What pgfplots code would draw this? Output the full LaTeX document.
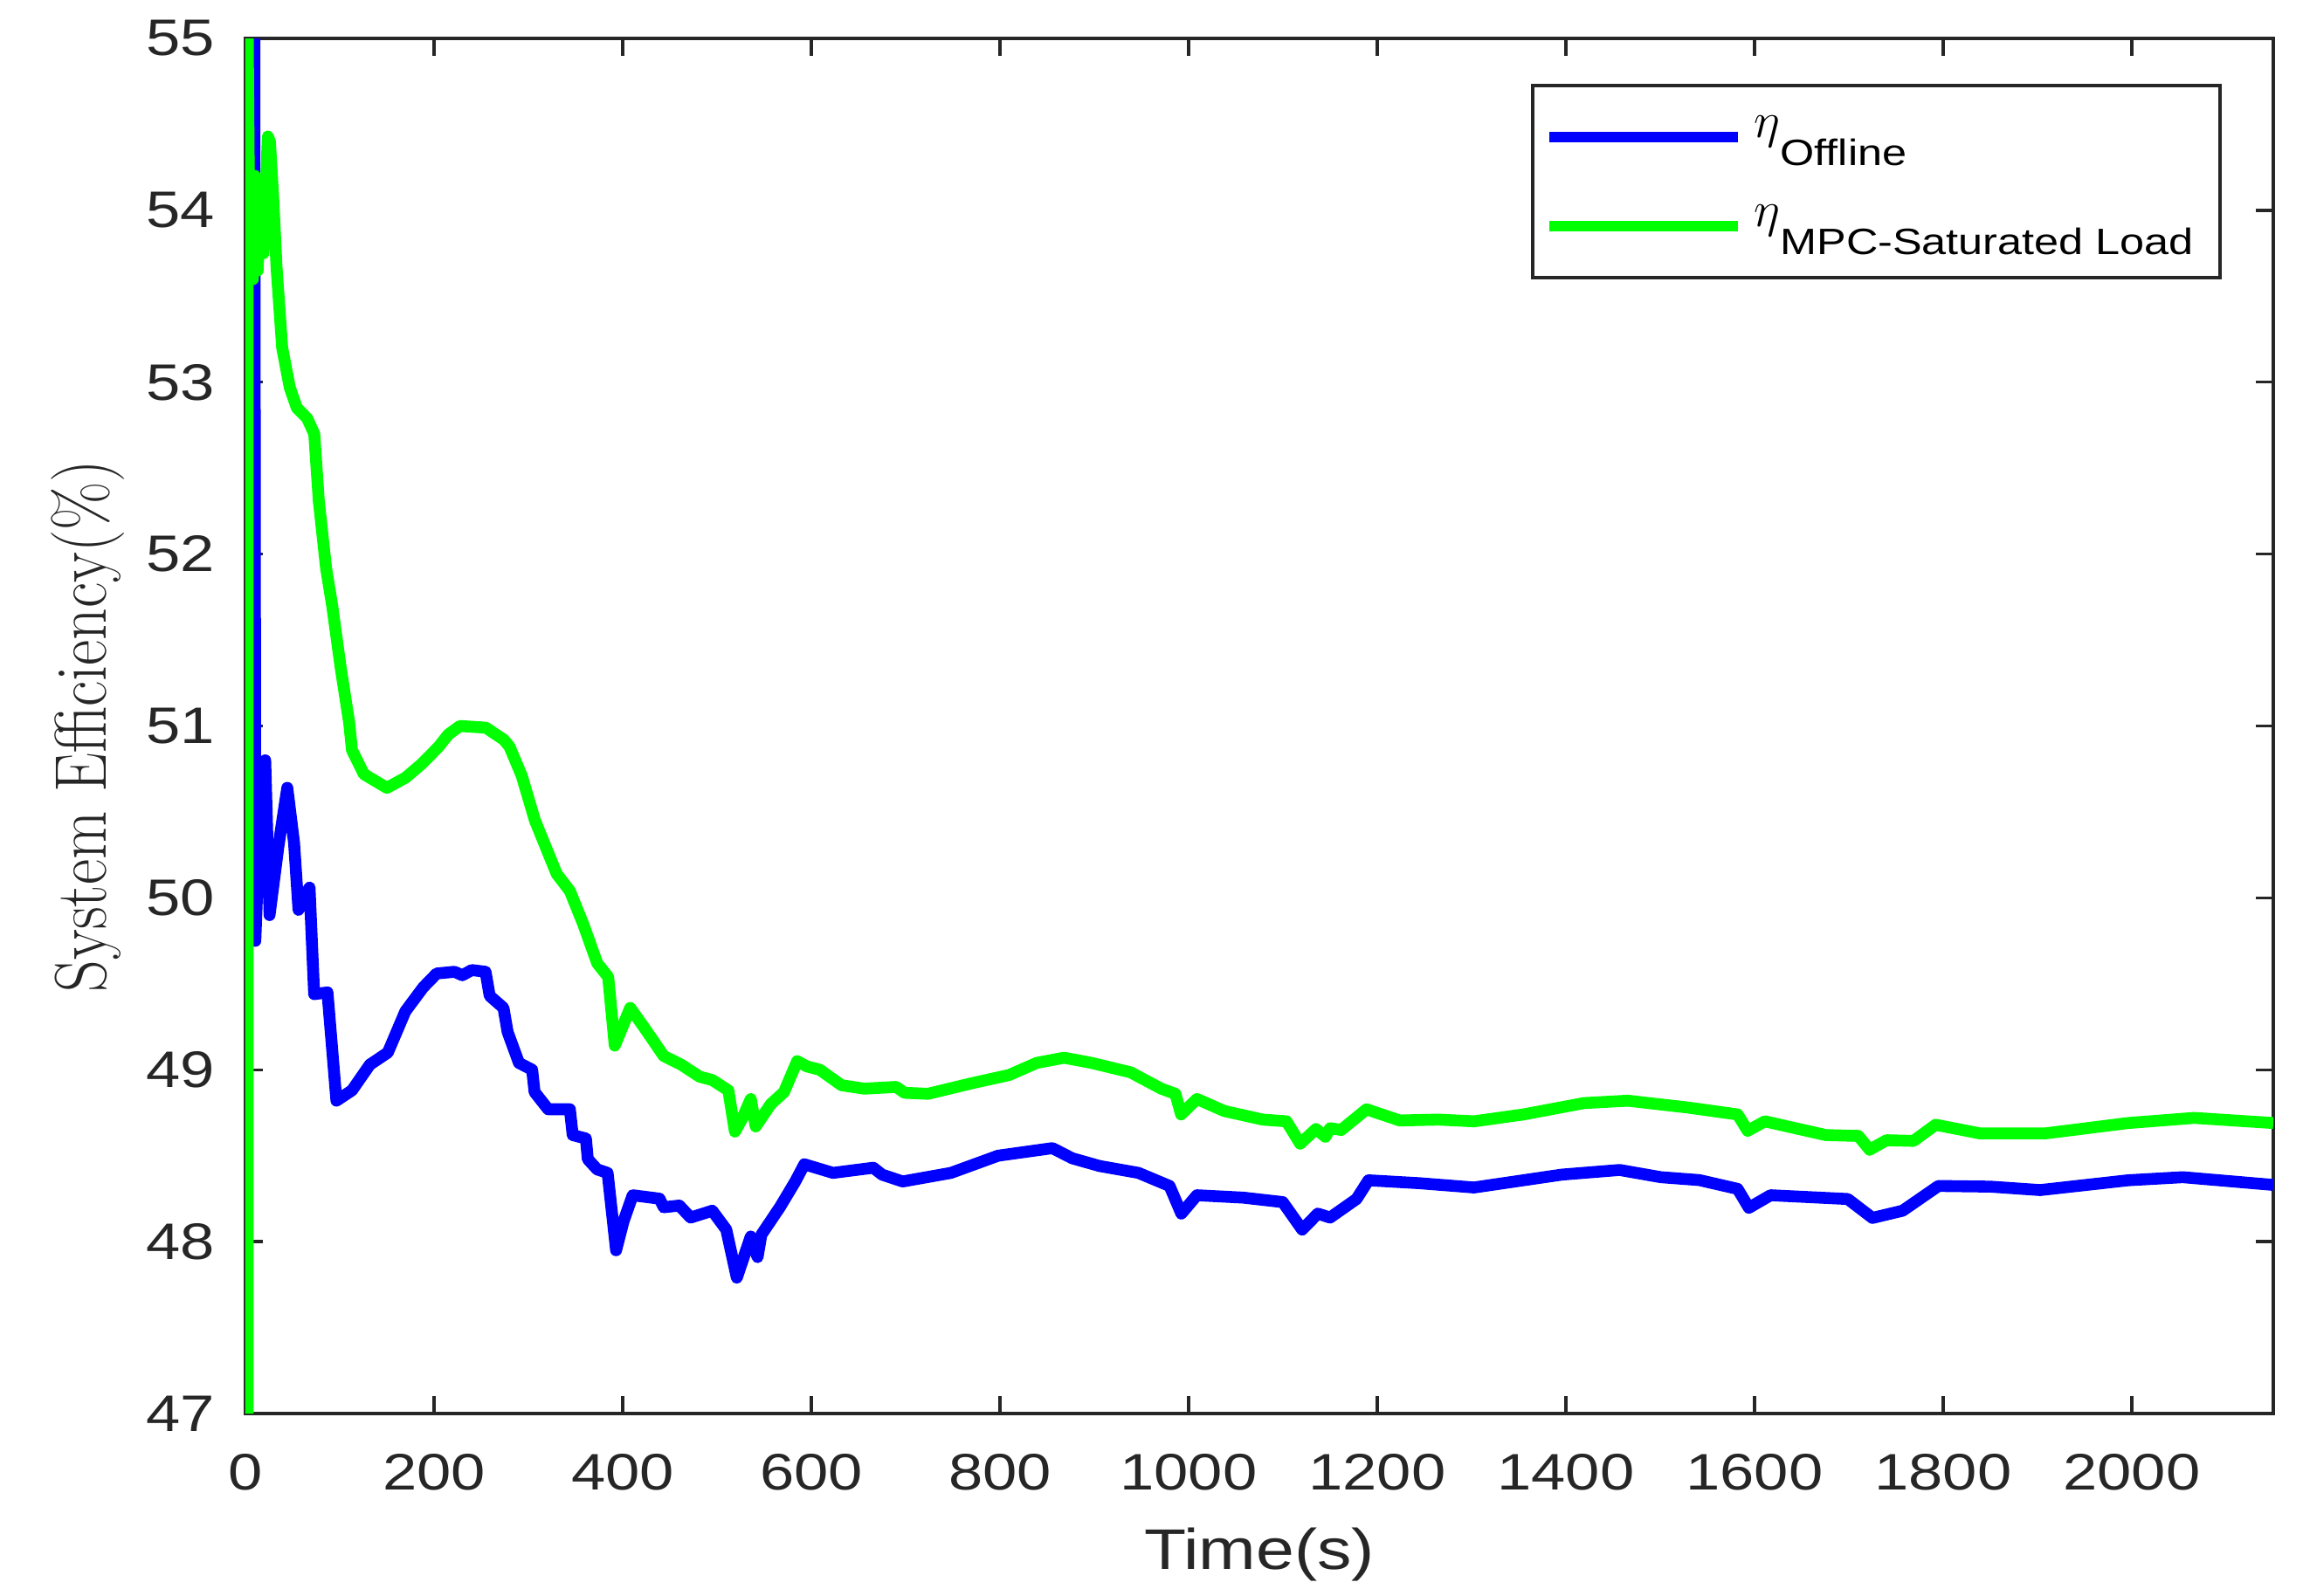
\documentclass[border=0pt]{standalone}
\usepackage{fontspec}
\usepackage{graphicx}
\usepackage{pgfplots}
\pgfplotsset{compat=1.18}
\newfontfamily\arial{Liberation Sans}[FakeStretch=1.2]
\definecolor{axgray}{HTML}{262626}
\definecolor{mblue}{HTML}{0000FF}
\definecolor{mgreen}{HTML}{00FF00}

\begin{document}
\begin{tikzpicture}
\begin{axis}[
  at={(0,0)}, anchor=south west,
  scale only axis,
  width=580.5bp, height=393.75bp,
  xmin=0, xmax=2150, ymin=47, ymax=55,
  xtick={0,200,...,2000}, ytick={47,48,...,55},
  scaled ticks=false,
  tick align=inside,
  major tick length=5bp,
  axis line style={axgray, line width=0.85bp},
  tick style={axgray, line width=0.85bp},
  /pgf/number format/assume math mode=true,
  /pgf/number format/set thousands separator={},
  tick label style={font=\arial\fontsize{14.7bp}{17bp}\selectfont, text=axgray, inner sep=0pt},
  xticklabel style={anchor=base, yshift=-21.75bp},
  yticklabel style={anchor=east, xshift=-8.5bp},
  xlabel={\arial\fontsize{16.4bp}{19bp}\selectfont Time(s)},
  xlabel style={at={([yshift=-44.5bp]axis description cs:0.5,0)}, anchor=base, inner sep=0pt, text=axgray},
  ylabel={\fontsize{17.9bp}{21bp}\selectfont\scalebox{1}[1.17]{System Efficiency(\%)}},
  ylabel style={at={([xshift=-39.75bp]axis description cs:0,0.5)}, anchor=base, inner sep=0pt, text=axgray},
  legend style={at={(rel axis cs:1,1)}, anchor=north east, xshift=-14.75bp, yshift=-13bp,
    draw=axgray, line width=1bp, fill=white, inner xsep=3.25bp, inner ysep=2bp,
    row sep=0bp,
    nodes={inner sep=0pt, text=black, text height=12.75bp, text depth=12.75bp},
    font=\fontsize{14.7bp}{17bp}\selectfont},
  legend cell align=left,
  legend image code/.code={\draw[line width=3bp] (0bp,0bp) -- (54bp,0bp);},
]
\addplot[mblue, line width=3.4bp, line join=round] coordinates {
(9.5,55) (10.5,49.75) (15,50.4) (21,50.80) (25.6,49.90) (35,50.3) (44.4,50.64)
(51.6,50.32) (56.3,49.93) (62,50.0) (68,50.06) (72.9,49.44) (87,49.45) (96.5,48.82)
(113,48.88) (132,49.03) (151,49.10) (169.6,49.34) (188.6,49.48) (202.8,49.56)
(221.7,49.57) (230,49.55) (240,49.58) (254.6,49.57) (259,49.43) (273.6,49.36)
(278,49.22) (290,49.04) (304,49.0) (306.6,48.87) (321,48.77) (344,48.77) (347,48.62)
(361,48.6) (363,48.48) (373,48.42) (384,48.40) (387,48.25) (393,47.95) (401,48.12)
(410.6,48.27) (439,48.25) (443.5,48.20) (460,48.21) (472,48.14) (495,48.18)
(509.8,48.07) (521,47.79) (535.8,48.03) (543,47.91) (547,48.04) (566.6,48.20)
(583,48.35) (592.6,48.45) (623,48.40) (665.7,48.43) (675,48.39) (696.8,48.35)
(748,48.40) (798,48.50) (855.6,48.544) (876.6,48.485) (905.6,48.44) (946.8,48.40)
(979.8,48.324) (992.3,48.163) (1008.8,48.27) (1058,48.256) (1099.8,48.23)
(1120.4,48.07) (1137,48.163) (1150,48.14) (1178,48.248) (1190.7,48.357)
(1244.6,48.34) (1302.6,48.315) (1395.8,48.39) (1457,48.417) (1500.6,48.375)
(1541.5,48.358) (1582,48.307) (1594,48.197) (1617,48.27) (1698.8,48.248)
(1725,48.138) (1757,48.18) (1795,48.324) (1850,48.32) (1902.8,48.30) (1996,48.357)
(2054,48.375) (2150,48.33)
};
\addplot[mgreen, line width=3.4bp, line join=round] coordinates {
(2.5,47) (2.5,55) (4,53.9) (6,54.2) (8,53.6) (10,54.2) (13,53.65) (16,54.1) (19,53.75)
(23.8,54.43) (26,54.4) (29.6,54.06) (33,53.67) (39,53.2) (47,52.97) (54.6,52.85)
(65.5,52.79) (73,52.7) (77.8,52.31) (85.5,51.92) (92,51.7) (101,51.34) (110,51.02)
(113,50.86) (125.6,50.72) (150,50.64) (170,50.7) (187,50.78) (205,50.88) (215,50.95)
(227.5,51.0) (255,50.99) (274,50.92) (280,50.88) (293,50.71) (307,50.45) (330,50.14)
(344,50.04) (358,49.85) (373,49.62) (384.6,49.54) (391.6,49.14) (408,49.36)
(424.8,49.23) (443.5,49.08) (462,49.03) (481.5,48.96) (495,48.94) (512,48.88)
(519,48.64) (527,48.72) (535.8,48.83) (541,48.67) (557,48.80) (571,48.87) (585,49.05)
(595,49.02) (609,49.0) (632,48.91) (656,48.89) (690,48.9) (698.8,48.866)
(723.6,48.86) (769,48.92) (810,48.97) (839,49.04) (868,49.07) (897,49.04)
(938.5,48.985) (971,48.89) (986,48.86) (992,48.74) (1008.8,48.83) (1037.8,48.76)
(1078.7,48.71) (1103.7,48.70) (1118.3,48.57) (1135,48.655) (1145,48.61)
(1150,48.66) (1161.8,48.65) (1188.6,48.77) (1223.8,48.705) (1264.9,48.71)
(1302.6,48.70) (1355,48.74) (1419,48.806) (1465.7,48.82) (1529.6,48.78)
(1582,48.74) (1592.7,48.645) (1611,48.70) (1675.5,48.62) (1710,48.615)
(1722,48.535) (1740,48.59) (1768.5,48.586) (1792,48.68) (1838.6,48.63)
(1908.6,48.63) (1996,48.69) (2066,48.72) (2150,48.69)
};
\legend{
  {\hspace*{3.25bp}$\eta$\raisebox{-8bp}{\arial\fontsize{10.5bp}{12bp}\selectfont Offline}},
  {\hspace*{3.25bp}$\eta$\raisebox{-8bp}{\arial\fontsize{10.5bp}{12bp}\selectfont MPC-Saturated Load}\hspace*{4.25bp}}
}
\end{axis}
\pgfresetboundingbox
\path (-70.25bp,-52.25bp) rectangle (589bp,404.75bp);
\end{tikzpicture}
\end{document}
